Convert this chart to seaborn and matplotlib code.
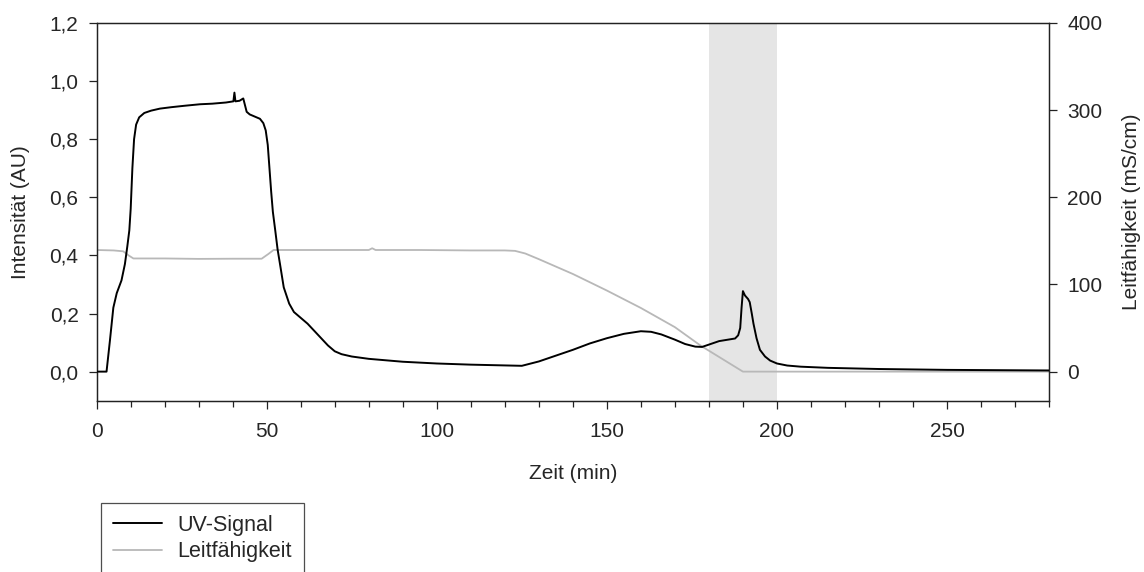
import matplotlib
matplotlib.use("Agg")
import matplotlib.pyplot as plt
import matplotlib.ticker as mticker
import seaborn as sns
import pandas as pd

# UV signal (AU) vs time (min)
uv_time = [0, 2.9, 3.9, 4.9, 5.9, 7.3, 8.3, 9.0, 9.6, 10.0, 10.5, 11.0, 11.6, 12.5, 14.0,
           16.0, 18.6, 22.0, 26.0, 30.4, 34.0, 38.0, 40.2, 40.5, 40.8, 42.0, 43.1, 44.1,
           45.0, 47.0, 48.0, 49.0, 49.7, 50.3, 50.8, 51.3, 51.8, 52.5, 53.2, 53.9, 55.0,
           56.6, 58.0, 60.0, 62.0, 64.0, 66.0, 68.0, 70.0, 72.0, 75.0, 80.0, 90.0, 100,
           110, 125, 130, 135, 140, 145, 150, 155, 160, 163, 166, 170, 173, 176, 178, 180,
           183, 187.7, 188.6, 189.2, 189.6, 190.0, 190.6, 191.5, 192.0, 192.6, 193.1,
           194.0, 195.0, 196.5, 198.0, 200.0, 203.0, 207.0, 215, 230, 250, 280]
uv_signal = [0.0, 0.0, 0.107, 0.22, 0.27, 0.314, 0.37, 0.43, 0.486, 0.56, 0.70, 0.80,
             0.85, 0.875, 0.89, 0.898, 0.905, 0.91, 0.915, 0.92, 0.922, 0.926, 0.93, 0.96,
             0.93, 0.932, 0.94, 0.894, 0.885, 0.875, 0.87, 0.855, 0.83, 0.78, 0.70, 0.62,
             0.55, 0.486, 0.42, 0.37, 0.29, 0.234, 0.205, 0.185, 0.165, 0.14, 0.115, 0.09,
             0.07, 0.06, 0.052, 0.044, 0.034, 0.028, 0.024, 0.02, 0.035, 0.055, 0.075,
             0.097, 0.115, 0.13, 0.139, 0.137, 0.128, 0.11, 0.095, 0.086, 0.085, 0.093,
             0.105, 0.114, 0.125, 0.15, 0.22, 0.277, 0.262, 0.25, 0.239, 0.20, 0.165,
             0.115, 0.075, 0.052, 0.038, 0.028, 0.021, 0.017, 0.013, 0.009, 0.006, 0.004]

# Conductivity (mS/cm) vs time (min)
cond_time = [0, 5, 7.8, 9.5, 10.8, 20, 30, 40, 48.5, 50.5, 52, 65, 80, 81, 82, 95, 110,
             120, 123, 126, 130, 140, 150, 160, 170, 177.5, 185, 190, 200, 240, 280]
cond_value = [139.5, 139, 138, 133, 129.8, 129.8, 129.3, 129.5, 129.5, 135, 139.5, 139.5,
              139.5, 141.5, 139.5, 139.5, 139, 139, 138.5, 135.5, 129, 112, 93, 73, 51, 30,
              12, 0, 0, 0, 0]

shade_start, shade_end = 180, 200

uv_df = pd.DataFrame({"Zeit": uv_time, "UV": uv_signal})
cond_df = pd.DataFrame({"Zeit": cond_time, "LF": cond_value})

sns.set_style("ticks")
plt.rcParams["font.family"] = ["Liberation Sans", "DejaVu Sans"]
FS = 15

fig = plt.figure(figsize=(11.44, 5.72), dpi=100)
ax = fig.add_axes([0.0845, 0.2995, 0.8325, 0.6605])
ax2 = ax.twinx()

ax2.axvspan(shade_start, shade_end, color="#e5e5e5", lw=0, zorder=0)

sns.lineplot(data=uv_df, x="Zeit", y="UV", ax=ax, color="black", lw=1.4,
             label="UV-Signal", legend=False, zorder=3)
sns.lineplot(data=cond_df, x="Zeit", y="LF", ax=ax2, color="#b8b8b8", lw=1.3,
             label="Leitfähigkeit", legend=False, zorder=2)

ax.set_zorder(ax2.get_zorder() + 1)
ax.patch.set_visible(False)

ax.set_xlim(0, 280)
ax.set_ylim(-0.1, 1.2)
ax2.set_ylim(-33.33, 400)

ax.set_xticks([0, 50, 100, 150, 200, 250])
ax.xaxis.set_minor_locator(mticker.MultipleLocator(10))
ax.set_yticks([0.0, 0.2, 0.4, 0.6, 0.8, 1.0, 1.2])
ax.yaxis.set_major_formatter(mticker.FuncFormatter(lambda v, p: f"{v:.1f}".replace(".", ",")))
ax2.set_yticks([0, 100, 200, 300, 400])

ax.set_xlabel("Zeit (min)", fontsize=FS, labelpad=17)
ax.set_ylabel("Intensität (AU)", fontsize=FS, labelpad=14)
ax2.set_ylabel("Leitfähigkeit (mS/cm)", fontsize=FS, labelpad=14)

for a in (ax, ax2):
    for s in a.spines.values():
        s.set_visible(True)
        s.set_linewidth(0.9)
        s.set_color("#222222")
    a.tick_params(which="major", direction="out", length=6, width=0.9, color="#222222",
                  labelsize=FS, pad=7)
    a.tick_params(which="minor", direction="out", length=4, width=0.9, color="#222222")
ax.tick_params(axis="x", pad=9)

h1, l1 = ax.get_legend_handles_labels()
h2, l2 = ax2.get_legend_handles_labels()
leg = fig.legend(h1 + h2, l1 + l2, loc="upper left",
                 bbox_to_anchor=(101 / 1144, 1 - 503 / 572), fontsize=15.5,
                 frameon=True, fancybox=False, edgecolor="#222222",
                 borderpad=0.55, handlelength=2.3, handletextpad=0.7,
                 labelspacing=0.25, borderaxespad=0)
leg.get_frame().set_linewidth(0.9)

fig.savefig("out.png", dpi=100)
